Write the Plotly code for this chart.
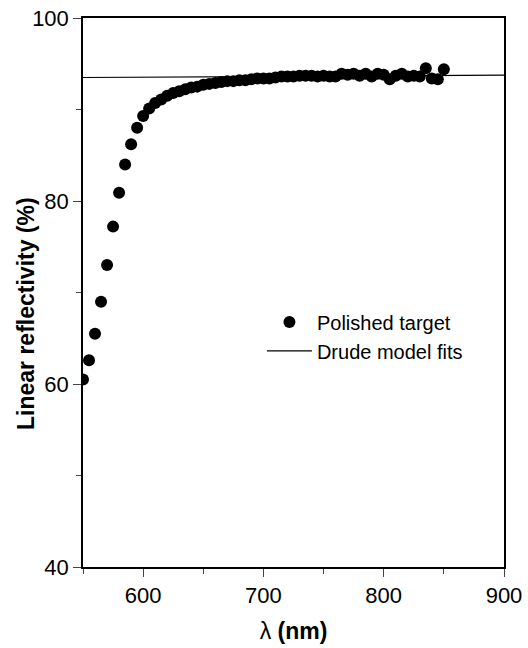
import plotly.graph_objects as go

wavelength = [550, 555, 560, 565, 570, 575, 580, 585, 590, 595,
              600, 605, 610, 615, 620, 625, 630, 635, 640, 645,
              650, 655, 660, 665, 670, 675, 680, 685, 690, 695,
              700, 705, 710, 715, 720, 725, 730, 735, 740, 745,
              750, 755, 760, 765, 770, 775, 780, 785, 790, 795,
              800, 805, 810, 815, 820, 825, 830, 835, 840, 845, 850]
reflectivity = [60.5, 62.6, 65.5, 69.0, 73.0, 77.2, 80.9, 84.0, 86.2, 88.0,
                89.3, 90.1, 90.7, 91.1, 91.5, 91.8, 92.0, 92.2, 92.4, 92.5,
                92.7, 92.8, 92.9, 93.0, 93.1, 93.1, 93.2, 93.2, 93.3, 93.4,
                93.4, 93.4, 93.5, 93.6, 93.6, 93.6, 93.7, 93.7, 93.7, 93.6,
                93.7, 93.6, 93.6, 93.9, 93.8, 93.9, 93.7, 93.9, 93.6, 93.9,
                93.8, 93.3, 93.7, 93.9, 93.6, 93.7, 93.6, 94.5, 93.4, 93.3, 94.4]
fit_wavelength = [550, 700, 900]
fit_reflectivity = [93.5, 93.6, 93.75]

fig = go.Figure()
fig.add_trace(go.Scatter(x=wavelength, y=reflectivity, mode="markers",
                         name="Polished target",
                         marker=dict(color="black", size=12)))
fig.add_trace(go.Scatter(x=fit_wavelength, y=fit_reflectivity, mode="lines",
                         name="Drude model fits",
                         line=dict(color="black", width=1.2)))

font_family = "Liberation Sans, Arial, sans-serif"
fig.update_layout(
    width=528, height=648,
    margin=dict(l=83, r=24, t=18, b=81),
    plot_bgcolor="white", paper_bgcolor="white",
    font=dict(family=font_family, color="black", size=22),
    showlegend=True,
    legend=dict(x=0.425, y=0.42, xanchor="left", yanchor="middle",
                font=dict(size=20, family=font_family), itemwidth=45,
                bgcolor="rgba(0,0,0,0)", tracegroupgap=0),
    xaxis=dict(range=[550, 900], dtick=100, tick0=0, automargin=False,
               ticks="outside", ticklen=8, tickwidth=1.3,
               showline=True, linewidth=1.5, linecolor="black", mirror=True,
               showgrid=False, zeroline=False,
               minor=dict(ticks="outside", ticklen=5, dtick=50, tick0=0,
                          tickwidth=1.3, showgrid=False),
               tickfont=dict(size=22),
               title=dict(text="λ <b>(nm)</b>", font=dict(size=23), standoff=16)),
    yaxis=dict(range=[40, 100], dtick=20, tick0=0, automargin=False,
               ticks="outside", ticklen=8, tickwidth=1.3,
               showline=True, linewidth=1.5, linecolor="black", mirror=True,
               showgrid=False, zeroline=False,
               minor=dict(ticks="outside", ticklen=5, dtick=10, tick0=0,
                          tickwidth=1.3, showgrid=False),
               tickfont=dict(size=22)),
    annotations=[dict(text="<b>Linear reflectivity (%)</b>", textangle=-90,
                      xref="paper", yref="paper",
                      x=-(83 - 26) / 421, y=(567 - 314) / 549,
                      xanchor="center", yanchor="middle", showarrow=False,
                      font=dict(size=23, family=font_family))],
)

fig.write_html("out.html")
